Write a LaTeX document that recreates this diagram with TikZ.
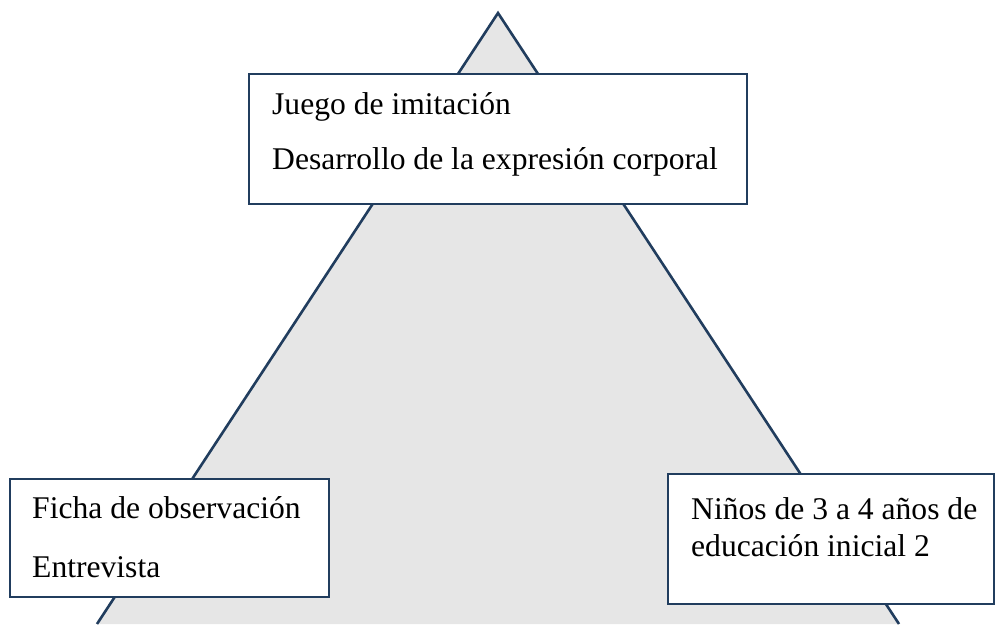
\documentclass[tikz,border=0pt]{standalone}
\usepackage{fontspec}
\setmainfont{Liberation Serif}
\definecolor{edge}{HTML}{213D5E}
\definecolor{tri}{HTML}{E6E6E6}
\begin{document}
\begin{tikzpicture}[x=1pt,y=1pt,
  box/.style={draw=edge, line width=2.3pt, fill=white, rectangle, inner sep=0pt, anchor=north west},
  txt/.style={anchor=base west, inner sep=0pt, font=\fontsize{31.6}{38}\selectfont}]
\useasboundingbox (0,0) rectangle (996,624);
% triangle
\coordinate (apex) at (498,611);
\coordinate (bl) at (97,0);
\coordinate (br) at (899,0);
\fill[tri] (bl) -- (apex) -- (br) -- cycle;
\draw[edge, line width=2.6pt, line join=miter] (bl) -- (apex) -- (br);
% boxes
\node[box, minimum width=498pt, minimum height=130pt] (top) at (248,551) {};
\node[box, minimum width=319pt, minimum height=118pt] (left) at (9,146) {};
\node[box, minimum width=326pt, minimum height=130pt] (right) at (667,151) {};
% texts
\node[txt] (t1) at (272,509) {Juego de imitación};
\node[txt] (t2) at (272,454) {Desarrollo de la expresión corporal};
\node[txt] (l1) at (32,105) {Ficha de observación};
\node[txt] (l2) at (32,47) {Entrevista};
\node[txt] (r1) at (691,104) {Niños de 3 a 4 años de};
\node[txt] (r2) at (691,67) {educación inicial 2};
\end{tikzpicture}
\end{document}
